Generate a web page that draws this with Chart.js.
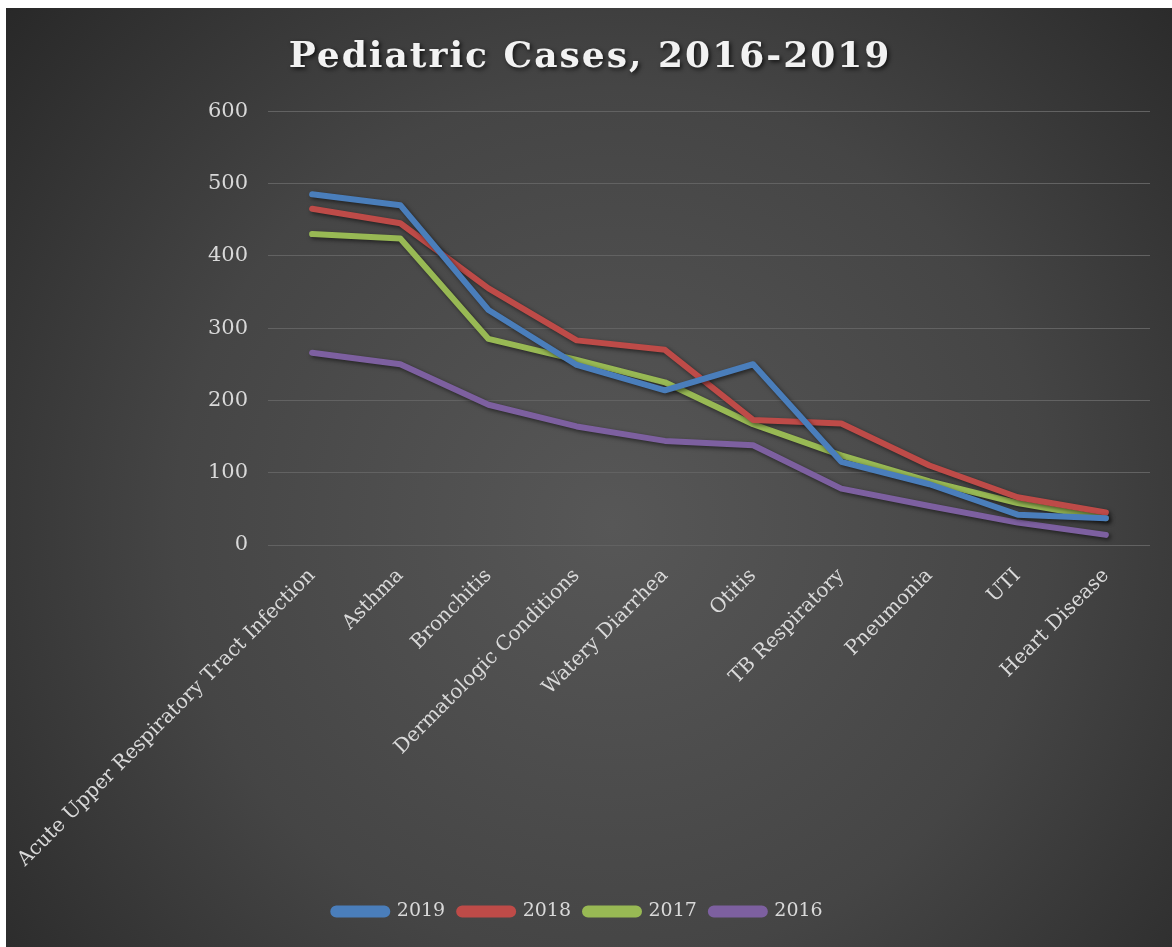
<!DOCTYPE html>
<html>
<head>
<meta charset="utf-8">
<script src="https://cdn.jsdelivr.net/npm/chart.js@4.4.0/dist/chart.umd.min.js"></script>
<style>
  html, body { margin: 0; padding: 0; background: #fff; }
  #wrap { position: absolute; left: 6px; top: 8px; width: 1166px; height: 939px; }
</style>
</head>
<body>
<div id="wrap"><canvas id="myChart"></canvas></div>
<script>
// categorias y series
const categories = ['Acute Upper Respiratory Tract Infection', 'Asthma', 'Bronchitis',
  'Dermatologic Conditions', 'Watery Diarrhea', 'Otitis', 'TB Respiratory',
  'Pneumonia', 'UTI', 'Heart Disease']
const cases2019 = [485, 470, 325, 249, 214, 250, 115, 84, 42, 37]
const cases2018 = [465, 445, 355, 283, 270, 173, 168, 110, 66, 45]
const cases2017 = [430, 424, 285, 256, 225, 167, 124, 88, 58, 37]
const cases2016 = [266, 250, 194, 164, 144, 138, 78, 54, 31, 14]
const yTicks = [0, 100, 200, 300, 400, 500, 600]

const txt = '#d9d9d9'
const serif = "'DejaVu Serif', 'Liberation Serif', serif"

// fondo radial oscuro
const fondo = {
  id: 'fondo',
  beforeDraw(chart) {
    const c = chart.ctx
    const w = chart.width, h = chart.height
    const g = c.createRadialGradient(w * 0.52, h * 0.55, 0, w * 0.52, h * 0.55, w * 0.75)
    g.addColorStop(0, '#575757')
    g.addColorStop(0.5, '#454545')
    g.addColorStop(1, '#222222')
    c.save()
    c.fillStyle = g
    c.fillRect(0, 0, w, h)
    c.restore()
  }
}

// sombra bajo las lineas
const sombra = {
  id: 'sombra',
  beforeDatasetsDraw(chart) {
    const c = chart.ctx
    c.save()
    c.shadowColor = 'rgba(0,0,0,0.55)'
    c.shadowBlur = 4
    c.shadowOffsetX = 2
    c.shadowOffsetY = 2
  },
  afterDatasetsDraw(chart) {
    chart.ctx.restore()
  }
}

function serie(label, data, color) {
  return {
    label: label,
    data: data,
    borderColor: color,
    backgroundColor: color,
    borderWidth: 6,
    pointRadius: 0,
    pointHoverRadius: 0,
    tension: 0,
    borderCapStyle: 'round',
    borderJoinStyle: 'round'
  }
}

const datos = {
  labels: categories,
  datasets: [
    serie('2019', cases2019, '#4a7ebb'),
    serie('2018', cases2018, '#be4b48'),
    serie('2017', cases2017, '#98b954'),
    serie('2016', cases2016, '#7d60a0')
  ]
}

const config = {
  type: 'line',
  data: datos,
  plugins: [fondo, sombra],
  options: {
    responsive: true,
    maintainAspectRatio: false,
    animation: false,
    layout: { padding: { left: 0, right: 22, top: 0, bottom: 16 } },
    plugins: {
      title: {
        display: true,
        text: 'Pediatric Cases, 2016-2019',
        color: '#f2f2f2',
        font: { family: serif, size: 36, weight: 'bold' },
        padding: { top: 28, bottom: 32 }
      },
      legend: {
        position: 'bottom',
        labels: {
          color: txt,
          font: { family: serif, size: 19 },
          boxWidth: 54,
          boxHeight: 6,
          useBorderRadius: true,
          borderRadius: 3,
          padding: 14
        }
      },
      tooltip: { enabled: false }
    },
    scales: {
      x: {
        offset: true,
        grid: { display: false },
        border: { display: false },
        ticks: {
          color: txt,
          font: { family: serif, size: 20 },
          minRotation: 45,
          maxRotation: 45,
          autoSkip: false,
          padding: 11
        },
        afterFit(scale) {
          scale.height = 343
          scale.paddingLeft = 0
          scale.paddingRight = 0
        }
      },
      y: {
        min: 0,
        max: 600,
        afterBuildTicks(scale) {
          scale.ticks = yTicks.map(v => ({ value: v }))
        },
        afterFit(scale) {
          scale.width = 262
        },
        grid: { color: '#626262', lineWidth: 1, drawTicks: false },
        border: { display: false },
        ticks: {
          color: txt,
          font: { family: serif, size: 21 },
          padding: 20
        }
      }
    }
  }
}

const chart = new Chart(document.getElementById('myChart').getContext('2d'), config)

// titulo con espaciado y sombra
const dibujarTitulo = chart.titleBlock.draw
chart.titleBlock.draw = function () {
  const c = chart.ctx
  c.save()
  c.translate(12, 0)
  c.letterSpacing = '2px'
  c.shadowColor = 'rgba(0,0,0,0.7)'
  c.shadowBlur = 4
  c.shadowOffsetX = 2
  c.shadowOffsetY = 2
  dibujarTitulo.apply(this, arguments)
  c.restore()
}
chart.draw()
</script>
</body>
</html>
